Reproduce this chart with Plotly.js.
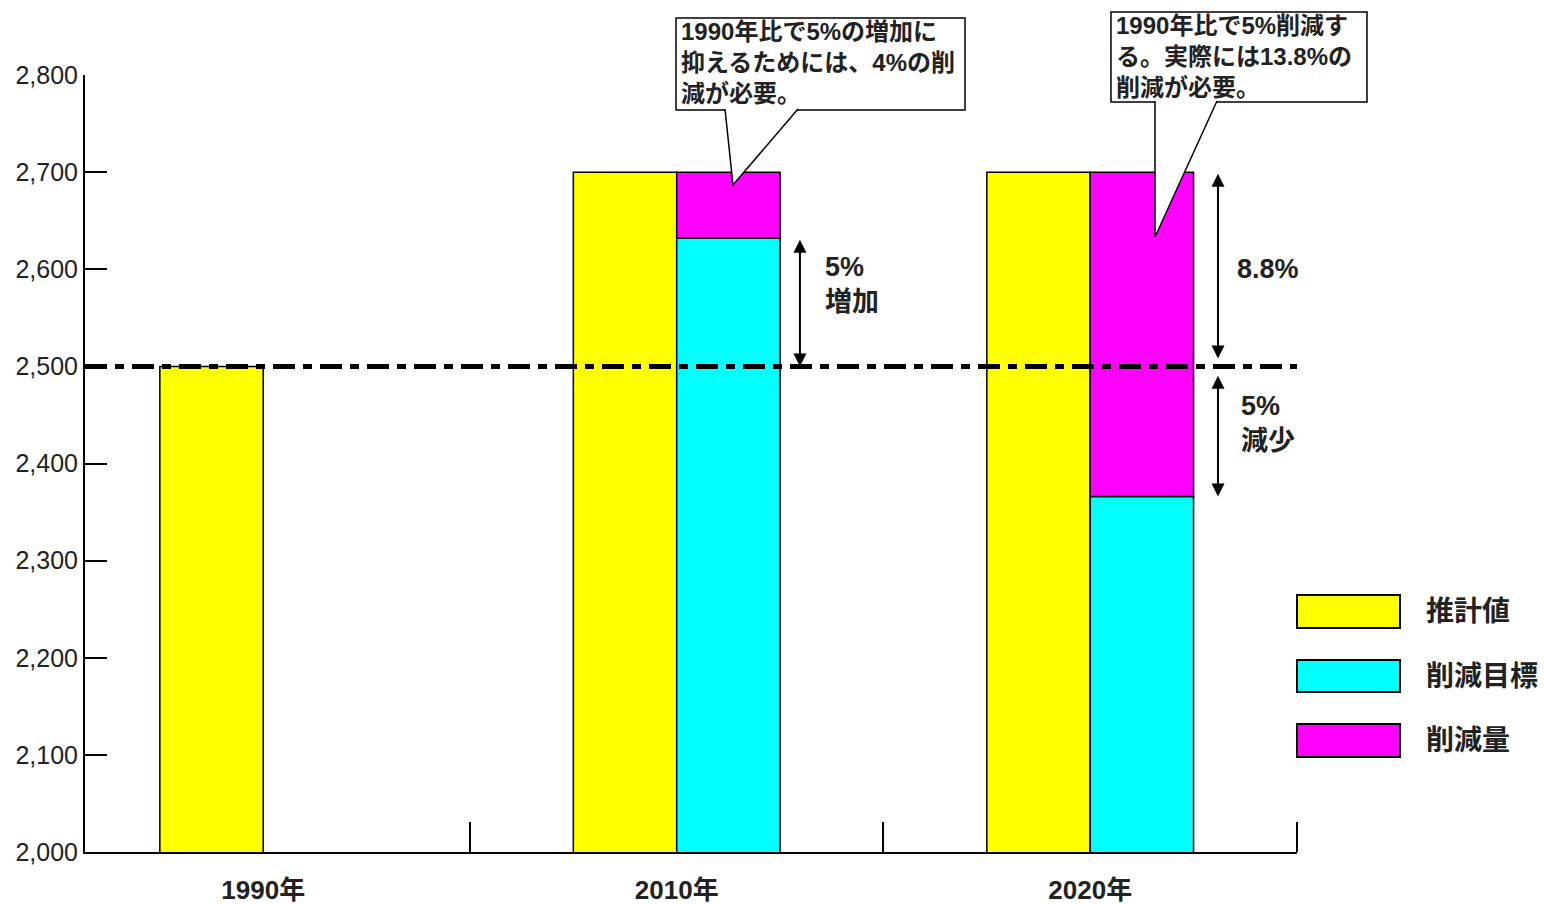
<!DOCTYPE html>
<html>
<head>
<meta charset="utf-8">
<script src="https://cdn.plot.ly/plotly-3.0.1.min.js"></script>
<style>html,body{margin:0;padding:0;background:#fff;}#chart{width:1544px;height:904px;}</style>
</head>
<body>
<div id="chart"></div>
<script>
// ---- data ----
const categories = ['1990年', '2010年', '2020年'];
const seriesNames = ['推計値', '削減目標', '削減量'];
const estimate = [2500, 2700, 2700];          // 推計値
const target = [null, 2632, 2366];            // 削減目標
const reduction = [null, 68, 334];            // 削減量 (stacked on 削減目標)
const baseline = 2500;                        // 1990年 level
const yTicks = [2000, 2100, 2200, 2300, 2400, 2500, 2600, 2700, 2800];
const callout2010 = '1990年比で5%の増加に<br>抑えるためには、4%の削<br>減が必要。';
const callout2020 = '1990年比で5%削減す<br>る。実際には13.8%の<br>削減が必要。';
const label2010 = '5%<br>増加';
const label2020up = '8.8%';
const label2020down = '5%<br>減少';

const colors = ['#ffff00', '#00ffff', '#ff00ff'];
const FONT = 'Liberation Sans, Arial, "Noto Sans CJK JP", sans-serif';
const xIdx = categories.map((c, i) => i);

const barLine = {color: '#000', width: 1.5};
const traces = [
  {type: 'bar', name: seriesNames[0], x: xIdx, y: estimate, offsetgroup: 'a',
   marker: {color: colors[0], line: barLine}, showlegend: false, hoverinfo: 'skip'},
  {type: 'bar', name: seriesNames[1], x: xIdx, y: target, offsetgroup: 'b',
   marker: {color: colors[1], line: barLine}, showlegend: false, hoverinfo: 'skip'},
  {type: 'bar', name: seriesNames[2], x: xIdx, y: reduction, base: target, offsetgroup: 'b',
   marker: {color: colors[2], line: barLine}, showlegend: false, hoverinfo: 'skip'}
];

// plot area pixel geometry (for paper conversion of decorations)
const L = 85, R = 1297, T = 75, B = 852;
const px = x => (x - L) / (R - L);
const py = y => (B - y) / (B - T);

const shapes = [
  {type: 'line', xref: 'paper', yref: 'y', x0: 0, x1: 1, y0: baseline, y1: baseline,
   line: {color: '#000', width: 5, dash: '22px,8px,9px,8px'}, layer: 'above'}
];
// legend swatches
const legY = [[595, 628], [660, 692], [724, 757]];
seriesNames.forEach((n, i) => {
  shapes.push({type: 'rect', xref: 'paper', yref: 'paper', x0: px(1297), x1: px(1400),
    y0: py(legY[i][1]), y1: py(legY[i][0]), fillcolor: colors[i], line: {color: '#000', width: 2}});
});
// callout boxes
shapes.push({type: 'rect', xref: 'paper', yref: 'paper', x0: px(676), x1: px(965), y0: py(110), y1: py(18),
  fillcolor: '#fff', line: {color: '#000', width: 1.5}, layer: 'above'});
shapes.push({type: 'path', xref: 'paper', yref: 'paper',
  path: `M ${px(725)} ${py(109)} L ${px(733)} ${py(185)} L ${px(798)} ${py(109)}`,
  fillcolor: '#fff', line: {color: '#000', width: 1.5}, layer: 'above'});
shapes.push({type: 'rect', xref: 'paper', yref: 'paper', x0: px(1111), x1: px(1367), y0: py(102), y1: py(12),
  fillcolor: '#fff', line: {color: '#000', width: 1.5}, layer: 'above'});
shapes.push({type: 'path', xref: 'paper', yref: 'paper',
  path: `M ${px(1155)} ${py(101)} L ${px(1155)} ${py(237)} L ${px(1217)} ${py(101)}`,
  fillcolor: '#fff', line: {color: '#000', width: 1.5}, layer: 'above'});

const txtFont = {family: FONT, size: 24, color: '#222', weight: 'bold'};
const annotations = [];
seriesNames.forEach((n, i) => {
  annotations.push({xref: 'paper', yref: 'paper', x: px(1424), y: (py(legY[i][0]) + py(legY[i][1])) / 2,
    xanchor: 'left', yanchor: 'middle', text: n, showarrow: false,
    font: {family: FONT, size: 28, color: '#222', weight: 'bold'}});
});
annotations.push({xref: 'paper', yref: 'paper', x: px(679), y: py(16), xanchor: 'left', yanchor: 'top',
  align: 'left', text: callout2010, showarrow: false, font: txtFont});
annotations.push({xref: 'paper', yref: 'paper', x: px(1114), y: py(10), xanchor: 'left', yanchor: 'top',
  align: 'left', text: callout2020, showarrow: false, font: txtFont});

// double-headed arrows (data coords)
const ax2010 = 1.298, ax2020 = 2.309;
function dbl(x, y0, y1) {
  return {x: x, y: y1, ax: x, ay: y0, xref: 'x', yref: 'y', axref: 'x', ayref: 'y',
    showarrow: true, arrowhead: 2, startarrowhead: 2, arrowside: 'end+start', arrowsize: 1.3,
    arrowwidth: 2, arrowcolor: '#000', text: ''};
}
annotations.push(dbl(ax2010, target[1], baseline));
annotations.push(dbl(ax2020, estimate[2], baseline + 8));
annotations.push(dbl(ax2020, baseline - 8, target[2]));
const lblFont = {family: FONT, size: 27, color: '#222', weight: 'bold'};
annotations.push({x: ax2010 + 0.055, y: (target[1] + baseline) / 2 + 18, xref: 'x', yref: 'y',
  xanchor: 'left', yanchor: 'middle', align: 'left', text: label2010, showarrow: false, font: lblFont});
annotations.push({x: ax2020 + 0.04, y: (estimate[2] + baseline) / 2, xref: 'x', yref: 'y',
  xanchor: 'left', yanchor: 'middle', align: 'left', text: label2020up, showarrow: false, font: lblFont});
annotations.push({x: ax2020 + 0.05, y: (baseline + target[2]) / 2 + 8, xref: 'x', yref: 'y',
  xanchor: 'left', yanchor: 'middle', align: 'left', text: label2020down, showarrow: false, font: lblFont});

const layout = {
  width: 1544, height: 904,
  margin: {l: L, r: 1544 - R, t: T, b: 904 - B, pad: 0},
  paper_bgcolor: '#fff', plot_bgcolor: '#fff',
  barmode: 'group', bargap: 0.5, bargroupgap: 0,
  font: {family: FONT, color: '#222'},
  xaxis: {type: 'linear', range: [-0.431, 2.5001], tickmode: 'array', tickvals: xIdx, ticktext: categories,
    ticks: '', showgrid: false, zeroline: false, showline: true, linecolor: '#000', linewidth: 2,
    tickfont: {family: FONT, size: 26, color: '#222', weight: 'bold'}, ticklabelstandoff: 14,
    minor: {tickmode: 'linear', tick0: 0.5, dtick: 1, ticks: 'inside', ticklen: 30, tickwidth: 2, tickcolor: '#000', showgrid: false},
    fixedrange: true},
  yaxis: {range: [2000, 2800], tickmode: 'array', tickvals: yTicks, tickformat: ',d',
    ticks: 'inside', ticklen: 22, tickwidth: 2, tickcolor: '#000',
    showgrid: false, zeroline: false, showline: true, linecolor: '#000', linewidth: 2,
    tickfont: {family: FONT, size: 25, color: '#222'}, ticklabelstandoff: 0, fixedrange: true},
  shapes: shapes,
  annotations: annotations,
  showlegend: false
};

Plotly.newPlot('chart', traces, layout, {displayModeBar: false, staticPlot: true});
</script>
</body>
</html>
